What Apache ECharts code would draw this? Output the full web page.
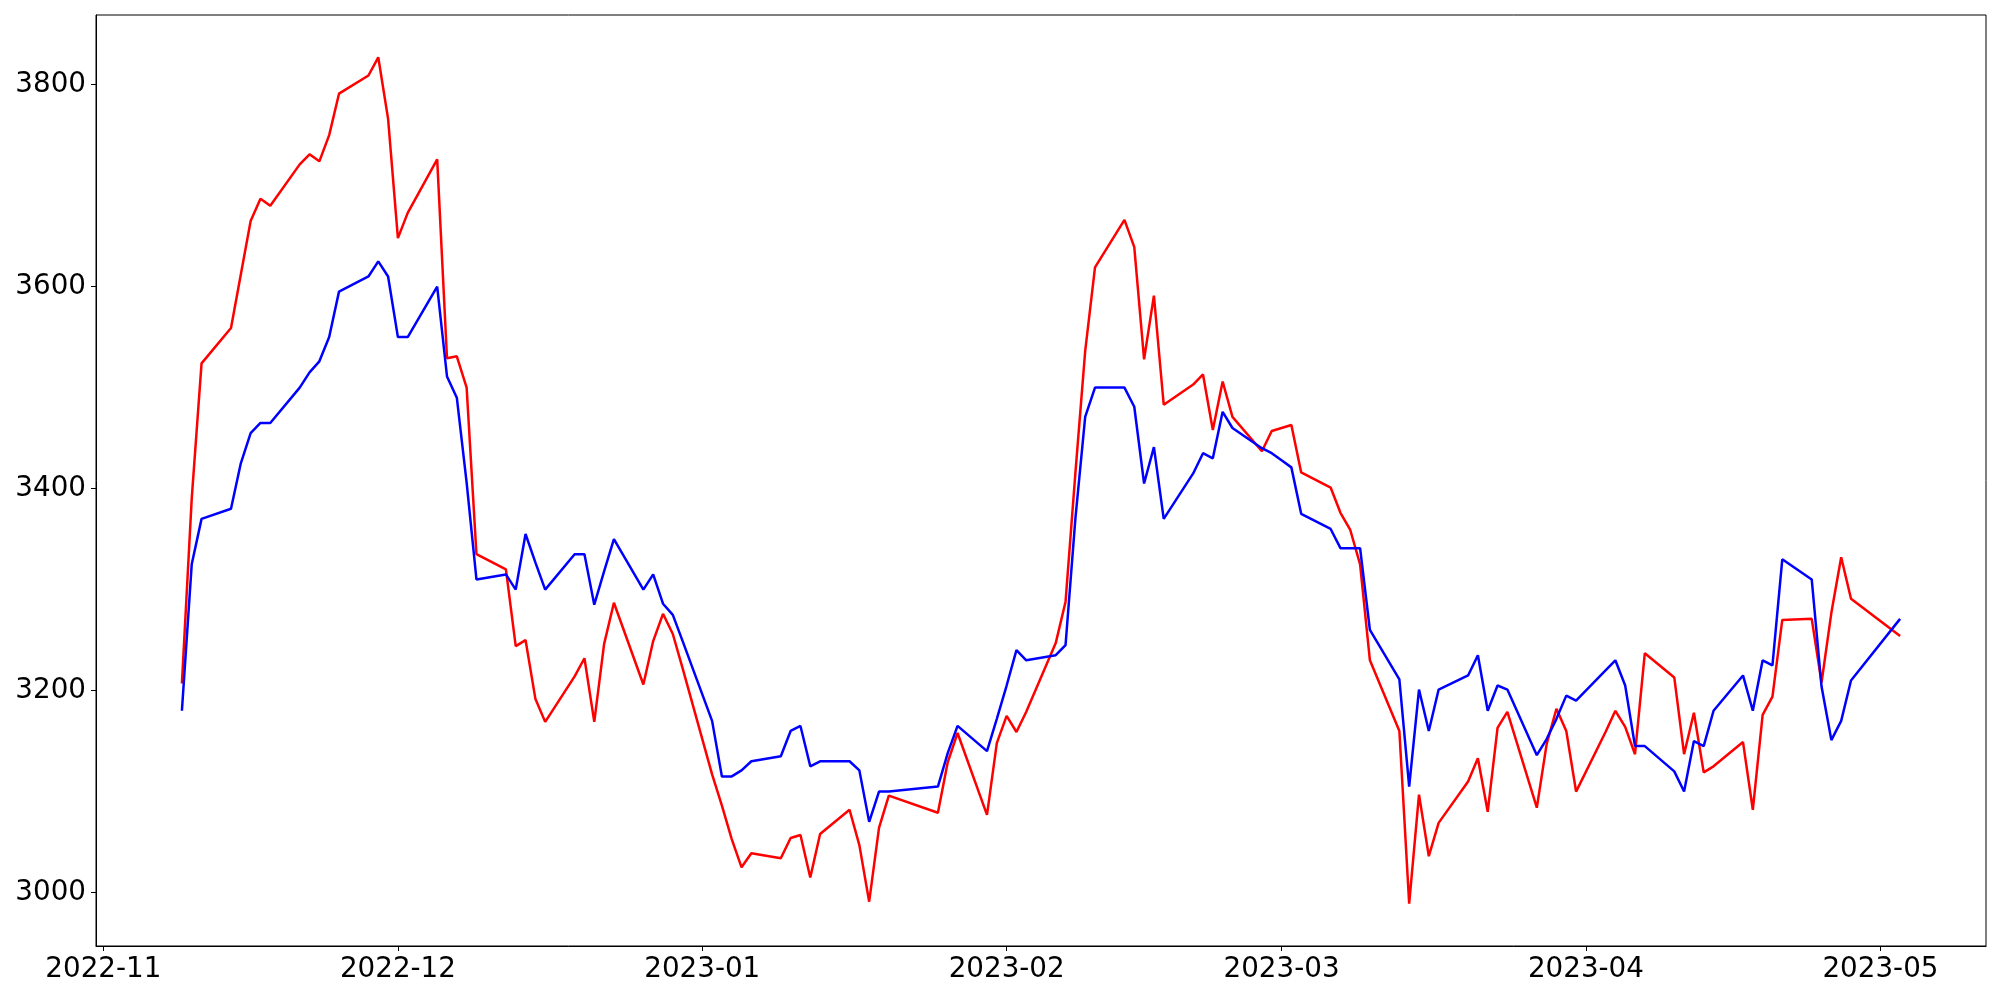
<!DOCTYPE html>
<html><head><meta charset="utf-8">
<script src="https://cdn.jsdelivr.net/npm/echarts@6/dist/echarts.min.js"></script>
<style>html,body{margin:0;padding:0;background:#fff}#c{width:2000px;height:1000px}</style>
</head><body><div id="c"></div>
<script>
const dates = ['2022-11-09','2022-11-10','2022-11-11','2022-11-14','2022-11-15','2022-11-16','2022-11-17','2022-11-18','2022-11-21','2022-11-22','2022-11-23','2022-11-24','2022-11-25','2022-11-28','2022-11-29','2022-11-30',
'2022-12-01','2022-12-02','2022-12-05','2022-12-06','2022-12-07','2022-12-08','2022-12-09','2022-12-12','2022-12-13','2022-12-14','2022-12-15','2022-12-16','2022-12-19','2022-12-20','2022-12-21','2022-12-22','2022-12-23','2022-12-26','2022-12-27','2022-12-28','2022-12-29','2022-12-30',
'2023-01-02','2023-01-03','2023-01-04','2023-01-05','2023-01-06','2023-01-09','2023-01-10','2023-01-11','2023-01-12','2023-01-13','2023-01-16','2023-01-17','2023-01-18','2023-01-19','2023-01-20','2023-01-25','2023-01-26','2023-01-27','2023-01-30','2023-01-31',
'2023-02-01','2023-02-02','2023-02-03','2023-02-06','2023-02-07','2023-02-08','2023-02-09','2023-02-10','2023-02-13','2023-02-14','2023-02-15','2023-02-16','2023-02-17','2023-02-20','2023-02-21','2023-02-22','2023-02-23','2023-02-24','2023-02-27','2023-02-28',
'2023-03-01','2023-03-02','2023-03-03','2023-03-06','2023-03-07','2023-03-08','2023-03-09','2023-03-10','2023-03-13','2023-03-14','2023-03-15','2023-03-16','2023-03-17','2023-03-20','2023-03-21','2023-03-22','2023-03-23','2023-03-24','2023-03-27','2023-03-28','2023-03-29','2023-03-30','2023-03-31',
'2023-04-03','2023-04-04','2023-04-05','2023-04-06','2023-04-07','2023-04-10','2023-04-11','2023-04-12','2023-04-13','2023-04-14','2023-04-17','2023-04-18','2023-04-19','2023-04-20','2023-04-21','2023-04-24','2023-04-25','2023-04-26','2023-04-27','2023-04-28',
'2023-05-03'];
const redValues = [3207,3390,3524,3559,3612,3665,3687,3680,3721,3731,3724,3750,3791,3809,3827,3766,
3648,3673,3726,3529,3531,3500,3335,3320,3244,3250,3192,3169,3214,3232,3169,3246,3287,3206,3249,3276,3256,3222,
3117,3086,3053,3025,3039,3034,3054,3057,3015,3058,3082,3047,2991,3064,3096,3079,3129,3158,3077,3148,
3175,3159,3179,3247,3288,3415,3536,3619,3666,3639,3528,3591,3483,3503,3513,3458,3506,3471,3437,3457,
3460,3463,3416,3401,3376,3359,3325,3230,3160,2989,3097,3036,3069,3110,3133,3080,3163,3179,3084,3147,3182,3160,3100,
3159,3180,3164,3137,3237,3213,3137,3178,3119,3125,3149,3082,3176,3194,3270,3271,3208,3277,3332,3291,
3254];
const blueValues = [3180,3325,3370,3380,3425,3455,3465,3465,3500,3515,3526,3550,3595,3610,3625,3610,
3550,3550,3600,3511,3490,3406,3310,3315,3300,3355,3327,3300,3335,3335,3285,3318,3350,3300,3315,3286,3275,3249,
3170,3115,3115,3121,3130,3135,3160,3165,3125,3130,3130,3121,3070,3100,3100,3105,3138,3165,3140,3172,
3205,3240,3230,3235,3245,3370,3471,3500,3500,3481,3405,3441,3370,3415,3435,3430,3476,3460,3440,3435,
3428,3421,3375,3360,3341,3341,3341,3260,3211,3105,3201,3160,3201,3215,3235,3180,3205,3201,3136,3152,3172,3195,3190,
3220,3230,3205,3145,3145,3120,3100,3150,3145,3180,3215,3180,3230,3225,3330,3310,3204,3151,3170,3210,
3271];
const xTickLabels = ['2022-11','2022-12','2023-01','2023-02','2023-03','2023-04','2023-05'];
const yTickLabels = [3000,3200,3400,3600,3800];

const DAY = 86400000;
function dayNum(s){const p=s.split('-').map(Number);return Date.UTC(p[0],p[1]-1,p[2]||1)/DAY;}
const xs = dates.map(dayNum);
const xTickVals = xTickLabels.map(dayNum);
const x0 = xs[0], x1 = xs[xs.length-1], xm = (x1-x0)*0.05;
const all = redValues.concat(blueValues);
const vmin = Math.min.apply(null,all), vmax = Math.max.apply(null,all), vm=(vmax-vmin)*0.05;
const FONT = {fontFamily:'DejaVu Sans', fontSize:27.78, color:'#000'};

const chart = echarts.init(document.getElementById('c'), null, {renderer:'canvas'});
chart.setOption({
  animation:false,
  backgroundColor:'#fff',
  grid:{left:96,right:14,top:15,bottom:54,show:true,borderColor:'#000',borderWidth:1,backgroundColor:'transparent'},
  xAxis:{type:'value',min:x0-xm,max:x1+xm,scale:true,
    axisLine:{show:true,onZero:false,lineStyle:{color:'#000',width:1}},
    axisTick:{show:true,length:5,lineStyle:{color:'#000',width:1},customValues:xTickVals},
    axisLabel:Object.assign({margin:10,customValues:xTickVals,hideOverlap:false,
      formatter:function(v){const i=xTickVals.indexOf(+v);return i>=0?xTickLabels[i]:'';}},FONT),
    splitLine:{show:false},minorTick:{show:false}},
  yAxis:{type:'value',min:vmin-vm,max:vmax+vm,scale:true,
    axisLine:{show:true,onZero:false,lineStyle:{color:'#000',width:1}},
    axisTick:{show:true,length:5,lineStyle:{color:'#000',width:1},customValues:yTickLabels},
    axisLabel:Object.assign({margin:10,customValues:yTickLabels,formatter:function(v){return String(v);}},FONT),
    splitLine:{show:false}},
  series:[
    {type:'line',data:xs.map((x,i)=>[x,redValues[i]]),showSymbol:false,symbol:'none',lineStyle:{color:'#ff0000',width:2.5},itemStyle:{color:'#ff0000'},z:2},
    {type:'line',data:xs.map((x,i)=>[x,blueValues[i]]),showSymbol:false,symbol:'none',lineStyle:{color:'#0000ff',width:2.5},itemStyle:{color:'#0000ff'},z:3}
  ]
});
</script></body></html>
